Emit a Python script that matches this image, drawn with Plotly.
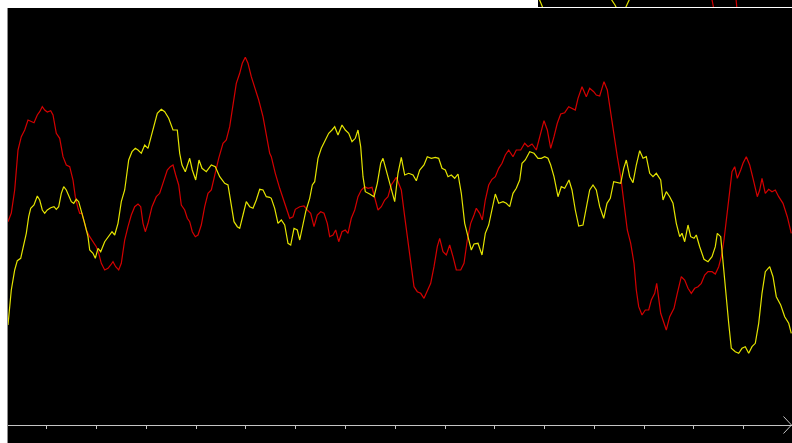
import plotly.graph_objects as go

# ---- sampled signals (t = horizontal sample position, v = level above the baseline) ----
red_t = [0, 3.3, 6.7, 10, 13.3, 16.7, 20, 23.3, 26, 29.3,
         31.7, 34.3, 36.7, 39.3, 42.7, 45, 48.3, 51.7, 55, 58.3,
         61.7, 65, 67.3, 70, 71.7, 74, 78.3, 81.7, 85, 88.3,
         90.7, 93.3, 96.7, 100, 102.7, 105, 107.7, 110.7, 113.3, 116.7,
         120, 123.3, 126.7, 130, 132.7, 135, 137.3, 140, 144, 148.3,
         151.7, 155, 159.3, 162.3, 165, 167.7, 170.7, 173.3, 176.7, 179.3,
         181.7, 184.3, 187.3, 190, 193.3, 196.7, 200, 203.3, 207.3, 210.7,
         215, 218.3, 221.7, 225, 228.3, 231.7, 234.3, 237.3, 240, 243.3,
         246.7, 250.7, 255, 258.3, 261.7, 263.3, 267.3, 271.7, 275, 278.3,
         281.7, 285, 287.3, 291.7, 296, 299.3, 302.7, 306, 309.3, 312.7,
         316, 319.3, 321.7, 325, 327.7, 330.7, 334, 337.3, 340, 343.3,
         346.7, 350, 353.3, 356.7, 360, 364, 366.7, 370, 373.3, 376.7,
         380, 383.3, 388.3, 391.7, 393.3, 396.7, 400, 403.3, 406, 409.3,
         412.7, 416, 419.3, 422.7, 426, 429.3, 431.7, 435, 438.3, 441.7,
         445, 448.3, 452.7, 456, 459.3, 462.7, 466, 468.3, 471.7, 474.3,
         477.3, 480.7, 484, 487.3, 490.7, 494, 497.3, 500.7, 505, 508.3,
         512.7, 516.7, 520, 524, 528.3, 531.7, 536, 539.3, 542.7, 546,
         549.3, 552.7, 556.7, 560.7, 564, 567.3, 570, 574, 578.3, 581.7,
         585.7, 588.3, 591.7, 596, 599.3, 602.7, 606, 609.3, 612.7, 616,
         619.3, 622.7, 626, 628.3, 630.7, 634, 637.3, 640.7, 643.3, 646.7,
         648.7, 652.7, 655, 658.3, 661.7, 666, 669.3, 673.3, 676.7, 680,
         683.3, 686.7, 690, 693.3, 696.7, 700, 704, 707.3, 710.7, 713.3,
         716, 719.3, 721.7, 724, 726.7, 729.3, 732.7, 735, 738.3, 741.7,
         745, 749.3, 751.7, 754, 757.3, 760.7, 764, 767.3, 770.7, 775,
         779.3, 783.3]
red_v = [203.3, 212, 235, 275, 288.3, 295, 305, 303.3, 302.3, 310,
         313.3, 318.3, 315, 313, 314.3, 310, 291.7, 286.7, 268.3, 260,
         258.3, 245, 228.3, 216.7, 211.7, 211.7, 195, 188.3, 183.3, 178.3,
         171.7, 161.7, 155, 156.7, 160, 163.3, 158.3, 155, 161.7, 185,
         198.3, 210, 218.3, 221, 218.3, 201.7, 193.3, 201.7, 218.3, 228.3,
         231.7, 241.7, 255, 258.3, 260, 250, 240, 220, 215, 206.7,
         203.3, 193.3, 188.3, 190, 200, 218.3, 231.7, 235, 253.3, 266.7,
         281.7, 285, 298.3, 321.7, 341.7, 351.7, 361.7, 367.7, 361.7, 348.3,
         338.3, 325, 308.3, 288.3, 271.7, 268.3, 251.7, 236.7, 226.7, 218.3,
         206.7, 208.3, 215.7, 218.3, 219, 215, 211.7, 198.3, 210, 213.3,
         211.7, 201.7, 188.3, 190, 195, 183.3, 193.3, 195, 191.7, 206.7,
         215, 228.3, 235, 238.3, 236.7, 237.7, 226.7, 215, 218.3, 225,
         228.3, 240, 247.7, 238.3, 235, 208.3, 181.7, 158.3, 138.3, 133.3,
         131.7, 126.7, 135, 141.7, 158.3, 178.3, 186.7, 173.3, 170, 180,
         168.3, 155, 155, 161.7, 185, 201.7, 210, 216.7, 211.7, 205,
         225, 240, 245.7, 248.3, 256.7, 261.7, 270, 275, 268.3, 275,
         275, 281.7, 278.3, 281, 275, 288.3, 304.3, 295, 276.7, 288.3,
         301.7, 311, 312.3, 318.3, 316.7, 315, 326.7, 338.3, 328.3, 336.7,
         333.3, 330, 329, 343.3, 335, 311.7, 288.3, 268.3, 248.3, 221.7,
         195, 181.7, 161.7, 135, 118.3, 110, 115, 115, 125, 131.7,
         141.7, 111.7, 105, 95, 108.3, 116.7, 131.7, 148.3, 145, 136.7,
         131.7, 136.7, 138.3, 141.7, 150, 153.3, 153.3, 151, 158.3, 168.3,
         185, 211.7, 235, 253.3, 258.3, 246.7, 255, 261.7, 268.3, 260,
         246.7, 228.3, 235, 246.7, 231.7, 235.7, 233.3, 235, 228.3, 221.7,
         208.3, 191.7]

yel_t = [0, 3.3, 6.7, 9.3, 12.7, 15, 18.3, 20.7, 22.7, 26,
         29.3, 31.7, 34.3, 36.7, 39.3, 42.7, 46, 48.3, 50.7, 53.3,
         55.7, 58.3, 61, 63.3, 65.7, 68.3, 70.7, 73.3, 76.7, 80,
         81.7, 85, 87.3, 90, 92.7, 96.7, 100, 104, 106.7, 110,
         113.3, 116.7, 120.7, 124, 127.3, 130, 133.3, 136.7, 140, 142.7,
         146, 149.3, 153.3, 156.7, 160.7, 165, 169.3, 171.7, 174, 177.3,
         181.7, 184.3, 187.7, 191, 194, 198.3, 203.3, 207.3, 211.7, 216.7,
         220, 222.7, 226, 229.3, 231.7, 235, 238.3, 241.7, 245, 248.3,
         251.7, 255, 258.3, 261.7, 263.3, 266.7, 270, 273.3, 276.7, 280,
         282.7, 286, 289.3, 291.7, 295, 297.7, 301.7, 304.3, 306.7, 310,
         313.3, 316.7, 320.7, 324, 326.7, 330, 334, 337.3, 340.7, 344,
         347.3, 350, 352.7, 355, 357.3, 361.7, 366, 369.3, 372.7, 375,
         378.3, 382.7, 386.7, 390, 393.3, 396.7, 400.7, 405, 408.3, 411.7,
         416, 419.3, 423.3, 427.3, 430.7, 434, 437.3, 440, 443.3, 446.7,
         450, 453.3, 456.7, 460, 463.3, 466, 470, 474, 477.3, 480.7,
         484, 487.3, 490.7, 495, 498.3, 501.7, 505, 508.3, 511.7, 514,
         517.3, 521.7, 526, 530, 533.3, 536.7, 540, 542.7, 546, 550,
         553.3, 556.7, 561, 564, 567.3, 570.7, 575, 578.3, 581.7, 585,
         588.3, 591.7, 595.7, 599, 602.3, 605.7, 609.3, 612.7, 615.7, 618.3,
         621.7, 625, 628.3, 631.7, 635, 638.3, 641.7, 645, 648.3, 652.7,
         655, 658.3, 661.7, 665, 668.3, 671.7, 674, 676.7, 680, 682.7,
         686, 688.3, 691.7, 696, 700, 704, 707.3, 709.3, 712.7, 715,
         718.3, 720.7, 723.3, 727.3, 730.7, 734, 737.3, 740.7, 744, 747.3,
         750.7, 754, 757.3, 761.7, 765, 768.3, 772.7, 776.7, 780.7, 783.3]
yel_v = [100, 135, 155, 164.3, 166.7, 178.3, 191.7, 208.3, 216.7, 220,
         229, 225, 215, 211.7, 215, 217.3, 218.3, 215.7, 218.3, 231.7,
         238.3, 235, 228.3, 223.3, 221.7, 225.7, 223.3, 215, 201.7, 188.3,
         175, 171.7, 166.7, 176.7, 173.3, 183.3, 188.3, 193.3, 190, 201.7,
         223.3, 235, 265, 273.3, 276.7, 275, 271.7, 280, 276.7, 286.7,
         298.3, 311.7, 315.7, 313.3, 306.7, 295, 295, 271.7, 260, 253.3,
         266.7, 255, 245, 265, 256.7, 253.3, 260, 258.3, 248.3, 241.7,
         240, 223.3, 203.3, 198.3, 196.7, 210, 223.3, 218.3, 216.7, 225,
         235.7, 235, 228.3, 227.7, 226.7, 216.7, 201.7, 205, 200, 181.7,
         180, 196.7, 195, 185, 201.7, 213.3, 226.7, 240, 243.3, 266.7,
         276.7, 283.3, 291.7, 295, 298.3, 290, 300, 295, 291.7, 283.3,
         286.7, 295, 278.3, 248.3, 233.3, 231, 228.3, 241.7, 261.7, 266.7,
         255, 238.3, 223.3, 251.7, 267.7, 250, 251.7, 250, 244.3, 255,
         260, 268.3, 266.7, 267.7, 266.7, 256.7, 255, 248.3, 250, 246.7,
         251, 231.7, 201.7, 188.3, 175, 181, 181.7, 170, 191.7, 200,
         215, 231, 221.7, 223.3, 221.7, 218.3, 231.7, 236.7, 245, 261.7,
         265, 273.3, 271.7, 266.7, 266.7, 268.3, 266.7, 260, 248.3, 228.3,
         238.3, 236.7, 245, 235, 215, 199, 200, 216.7, 235, 240,
         235, 218.3, 206.7, 221.7, 226.7, 243.3, 242.3, 241.7, 256.7, 265,
         248.3, 242.3, 260, 274.3, 266.7, 268.3, 251.7, 248.3, 251.7, 245,
         225, 233.3, 228.3, 221.7, 201.7, 188.3, 191.7, 183.3, 200, 188.3,
         186.7, 190, 178.3, 165.7, 163.3, 168.3, 178.3, 191.7, 188.3, 161.7,
         128.3, 101.7, 76.7, 73.3, 71.7, 76.7, 78.3, 71.7, 78.3, 81.7,
         101.7, 131.7, 153.3, 158.3, 148.3, 128.3, 120, 108.3, 101.7, 91.7]

# fragments of the second trace window peeking above the main one
top_yel_t = [530, 532, 533.7, 535.5, None, 602, 603.7, 607, 609, None, 617, 618.7, 621.3, 623]
top_yel_v = [11, 7, 2, -3, None, 11, 7, 2, -2, None, -2, 2, 7, 11]
top_red_t = [703.5, 704, 705.3, 705.8, None, 727.8, 728, 728.7, 729]
top_red_v = [10, 7, 2, -2, None, 10, 7, 2, -2]

# ---- page geometry ----
W, H = 792, 443
LEFT = 8          # left edge of the scope window
TOP = 8           # top edge of the main window
BASE = 425        # baseline (time axis) row
STRIP_L = 538     # left edge of the upper window strip
STRIP_B = 7       # bottom of the upper window strip

RED = "#d40000"
YEL = "#e4e400"
AXIS = "#c4c4c4"
FRAME = "#8c8c8c"
LW = 1.2

fig = go.Figure()
fig.add_trace(go.Scatter(x=red_t, y=red_v, mode="lines",
                         line=dict(color=RED, width=LW), hoverinfo="skip"))
fig.add_trace(go.Scatter(x=yel_t, y=yel_v, mode="lines",
                         line=dict(color=YEL, width=LW), hoverinfo="skip"))
fig.add_trace(go.Scatter(x=top_yel_t, y=top_yel_v, mode="lines", xaxis="x4", yaxis="y2",
                         line=dict(color=YEL, width=LW), connectgaps=False, hoverinfo="skip"))
fig.add_trace(go.Scatter(x=top_red_t, y=top_red_v, mode="lines", xaxis="x4", yaxis="y2",
                         line=dict(color=RED, width=LW), connectgaps=False, hoverinfo="skip"))

x_span = W - LEFT
tick0 = 46.7 - LEFT
dtick = 49.79
base_pos = (H - BASE) / H

common_x = dict(range=[0, x_span], domain=[LEFT / W, 1], showgrid=False, zeroline=False,
                showticklabels=False, tickmode="linear", tick0=tick0, dtick=dtick,
                fixedrange=True)

fig.update_layout(
    width=W, height=H,
    margin=dict(l=0, r=0, t=0, b=0),
    paper_bgcolor="white",
    plot_bgcolor="black",
    showlegend=False,
    xaxis=dict(**common_x, anchor="free", position=base_pos, showline=True,
               linecolor=AXIS, linewidth=1, ticks="outside", ticklen=3,
               tickcolor=AXIS, tickwidth=1),
    xaxis3=dict(**common_x, overlaying="x", anchor="free", position=base_pos,
                showline=False, ticks="inside", ticklen=3, tickcolor=AXIS, tickwidth=1),
    xaxis2=dict(range=[0, x_span], overlaying="x", side="top", anchor="y",
                showline=True, linecolor="#b4b4b4", linewidth=1.5, showgrid=False,
                zeroline=False, showticklabels=False, ticks=""),
    yaxis=dict(range=[BASE - H, BASE - TOP], domain=[0, (H - TOP) / H], anchor="x",
               showline=True, linecolor=FRAME, linewidth=1, showgrid=False,
               zeroline=False, showticklabels=False, ticks="", fixedrange=True),
    xaxis4=dict(range=[STRIP_L - LEFT, x_span], domain=[STRIP_L / W, 1], anchor="y2",
                showline=False, showgrid=False, zeroline=False, showticklabels=False,
                ticks=""),
    yaxis2=dict(range=[0, STRIP_B], domain=[1 - STRIP_B / H, 1], anchor="x4",
                showline=False, showgrid=False, zeroline=False, showticklabels=False,
                ticks=""),
)

# open chevron at the end of the time axis
def px(xp):
    return xp / W

def py(yp):
    return 1 - yp / H

fig.add_shape(type="path", xref="paper", yref="paper",
              path=f"M {px(783.5)} {py(416.5)} L {px(791.5)} {py(BASE)} L {px(783.5)} {py(433.5)}",
              line=dict(color=AXIS, width=1))

fig.write_html("out.html", config={"displayModeBar": False})
